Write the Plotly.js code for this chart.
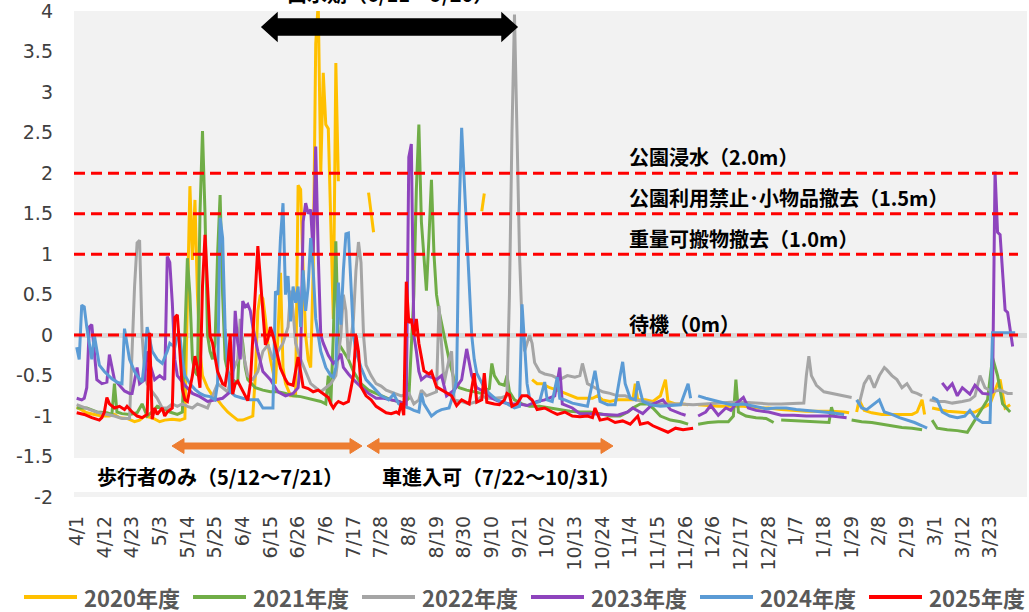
<!DOCTYPE html>
<html><head><meta charset="utf-8">
<script src="https://cdn.plot.ly/plotly-3.0.1.min.js"></script>
<style>html,body{margin:0;padding:0;background:#fff}#c{width:1029px;height:612px}</style>
</head><body><div id="c"></div>
<script>
// ---- data (day slot index from 4/1, water level m) ----
const tickLabels = ['4/1','4/12','4/23','5/3','5/14','5/25','6/4','6/15','6/26','7/6','7/17','7/28','8/8','8/19','8/30','9/10','9/21','10/2','10/13','10/24','11/4','11/15','11/26','12/6','12/17','12/28','1/7','1/18','1/29','2/8','2/19','3/1','3/12','3/23'];
const yTicks = [-2,-1.5,-1,-0.5,0,0.5,1,1.5,2,2.5,3,3.5,4];
const seriesNames = ['2020年度','2021年度','2022年度','2023年度','2024年度','2025年度'];
const seriesColors = ['#FFC000','#70AD47','#A5A5A5','#8E44BD','#5B9BD5','#FF0000'];

const idx2020 = [0,2,4,7,10,13,15,17,20,23,25,27,30,33,35,38,41,43,44,45,46,47,48,49,50,52,54,56,58,60,62,64,66,68,70,71,72,73,74,75,76,77,79,80,81,82,83,85,87,88,89,90,91,92,93,94,95,96,97,98,99,100,101,102,103,104,105,116,118,119,161,162,163,181,183,185,188,191,194,197,199,202,205,207,209,212,215,218,221,222,223,226,229,232,234,235,238,241,243,244,247,251,255,260,265,270,275,280,285,290,295,300,305,307,308,310,311,313,316,320,324,328,332,334,336,337,338,340,343,346,350,354,357,360,363,366,367,369,371];
const val2020 = [-0.89,-0.93,-0.96,-0.98,-1.0,-1.0,-0.98,-1.02,-1.03,-1.07,-1.05,-1.0,-1.02,-1.07,-1.05,-1.04,-1.05,-1.03,0.5,1.84,0.93,1.67,0.5,-0.2,-0.5,-0.65,-0.75,-0.8,-0.88,-0.95,-1.0,-1.05,-1.05,-1.02,-1.0,-0.5,0.3,0.5,0.45,0.2,-0.1,-0.3,-0.6,0.0,0.77,-0.4,-0.6,-0.75,-0.75,1.85,1.8,0.8,0.0,-0.3,-0.4,0.8,3.6,4.1,2.0,3.24,2.6,2.55,1.5,0.2,3.36,1.9,null,1.76,1.27,null,1.53,1.75,null,-0.55,-0.6,-0.6,-0.65,-0.68,-0.72,-0.75,-0.78,-0.78,-0.78,-0.75,-0.8,-0.82,-0.8,-0.8,-0.8,-0.6,-0.8,-0.8,-0.82,-0.75,-0.55,-0.82,-0.85,-0.85,-0.86,null,-0.86,-0.87,-0.88,-0.88,-0.88,-0.9,-0.9,-0.92,-0.93,-0.94,-0.94,-0.94,-0.95,-0.96,null,-0.95,-0.8,-0.93,-0.96,-0.98,-0.98,-0.98,-0.98,-0.95,-0.8,-0.98,null,-0.9,-0.92,-0.94,-0.95,-0.96,-0.95,-0.9,-0.85,-0.6,-0.55,-0.9,-0.86];

const idx2021 = [0,4,8,12,14,15,16,18,21,24,26,28,30,32,34,37,40,42,43,44,45,46,47,48,49,50,51,52,53,54,55,56,57,58,59,60,62,64,65,66,67,68,71,74,77,80,83,86,89,92,95,97,99,100,101,102,103,104,105,106,108,110,113,116,119,122,125,128,130,132,133,134,135,136,137,138,139,140,141,142,143,144,146,148,150,152,155,158,161,164,165,166,168,170,171,172,174,177,180,184,188,192,196,200,204,208,212,216,219,221,224,227,229,232,236,240,243,244,247,251,255,259,261,262,263,266,270,274,277,278,280,285,290,295,299,300,301,302,308,312,316,320,324,328,332,336,337,340,342,346,350,354,356,358,360,362,364,366,368,371];
const val2021 = [-0.9,-0.9,-0.95,-0.96,-0.98,-0.6,-0.95,-0.97,-0.98,-0.96,-0.85,-1.0,-0.95,-0.88,-0.9,-0.95,-0.98,-0.95,0.0,0.95,0.5,-0.3,-0.45,-0.5,1.5,2.52,1.5,0.0,-0.2,-0.3,-0.1,1.0,1.73,0.5,-0.3,-0.45,-0.55,-0.6,0.1,-0.1,-0.4,-0.55,-0.65,-0.68,-0.7,-0.7,-0.72,-0.75,-0.76,-0.78,-0.8,-0.82,-0.85,-0.5,-0.85,0.0,1.16,-0.1,-0.15,-0.2,-0.3,-0.45,-0.6,-0.68,-0.72,-0.76,-0.8,-0.82,-0.84,-0.78,-0.2,0.5,1.8,2.6,1.4,1.0,0.55,1.2,1.92,1.0,0.5,0.3,0.0,-0.3,-0.55,-0.65,-0.68,-0.7,-0.72,-0.66,-0.35,-0.5,-0.6,-0.62,-0.5,-0.7,-0.8,-0.85,-0.88,-0.88,-0.9,-0.92,-0.94,-0.95,-0.95,-0.97,-1.0,-1.0,-0.95,-0.9,-0.85,-0.85,-0.9,-1.0,-1.05,-1.07,-1.1,null,-1.1,-1.08,-1.07,-1.07,-1.0,-0.55,-0.95,-1.0,-1.02,-1.03,-1.08,null,-1.05,-1.06,-1.07,-1.08,-1.08,-0.89,-1.0,null,-1.05,-1.07,-1.08,-1.1,-1.12,-1.14,-1.15,-1.17,null,-1.05,-1.15,-1.17,-1.18,-1.2,-1.1,-1.0,-0.9,-0.8,-0.28,-0.5,-0.85,-0.95];

const idx2022 = [0,3,6,9,12,15,18,21,22,23,24,25,26,27,28,30,32,34,36,38,40,42,44,46,48,50,52,54,56,58,60,62,64,65,66,68,70,72,74,76,78,80,82,84,85,86,87,89,91,93,95,97,99,101,103,105,106,107,108,110,111,112,113,114,115,117,119,121,123,126,129,132,134,136,137,139,141,143,144,145,146,148,149,150,153,156,159,161,163,166,169,171,172,173,174,175,176,177,178,180,181,182,184,186,189,192,195,198,200,201,203,206,209,212,215,218,222,226,230,235,240,245,250,255,260,265,270,275,280,285,289,290,291,292,294,297,300,303,306,308,309,311,313,315,317,319,321,322,324,326,328,330,332,334,336,337,339,342,345,348,352,355,357,359,361,364,367,370,372];
const val2022 = [-0.86,-0.9,-0.93,-0.96,-0.98,-1.0,-1.03,-1.03,-0.21,0.6,1.14,1.17,0.0,-0.45,-0.6,-0.7,-0.78,-0.9,-0.9,-0.85,-0.88,-0.85,-0.88,-0.9,-0.85,-0.88,-0.9,-0.75,-0.6,-0.65,-0.7,-0.45,-0.3,0.2,-0.2,-0.5,-0.55,-0.45,-0.2,-0.12,-0.3,-0.2,-0.1,0.1,0.55,0.3,-0.1,-0.3,-0.45,-0.6,-0.65,-0.7,-0.65,-0.6,-0.5,0.0,0.5,0.3,-0.3,0.2,0.8,1.15,0.9,0.0,-0.37,-0.5,-0.6,-0.63,-0.68,-0.72,-0.75,-0.72,-0.85,-0.8,-0.68,-0.75,-0.72,-0.7,0.36,-0.2,-0.6,-0.3,-0.2,-0.8,-0.82,-0.85,-0.82,-0.75,-0.78,-0.78,-0.77,-0.75,0.5,2.5,3.96,2.5,1.0,0.15,-0.2,0.0,-0.1,-0.34,-0.45,-0.48,-0.5,-0.55,-0.5,-0.52,-0.5,-0.35,-0.6,-0.65,-0.7,-0.72,-0.75,-0.75,-0.8,-0.82,-0.85,-0.85,-0.85,-0.86,-0.85,-0.84,-0.83,-0.83,-0.84,-0.85,-0.85,-0.84,-0.84,-0.5,-0.26,-0.5,-0.62,-0.7,-0.72,-0.74,-0.76,-0.77,null,-0.85,-0.6,-0.5,-0.65,-0.5,-0.4,-0.43,-0.5,-0.55,-0.65,-0.6,-0.7,-0.72,-0.75,null,-0.8,-0.82,-0.82,-0.84,-0.82,-0.8,-0.75,-0.5,-0.65,-0.7,-0.68,-0.72,-0.72];

const idx2023 = [0,2,3,4,5,6,7,8,10,12,13,14,15,17,19,21,22,24,25,27,28,29,31,33,35,36,37,38,39,40,43,46,49,52,55,58,61,62,63,64,65,66,67,68,69,70,72,74,77,80,83,86,88,89,90,91,92,93,94,95,96,97,98,100,102,104,105,106,108,110,113,116,119,122,125,128,131,132,133,134,135,136,137,139,141,143,145,147,150,153,155,157,159,162,165,168,172,176,179,183,186,190,192,193,197,200,205,210,215,219,221,225,229,233,236,240,242,243,247,250,252,255,258,260,262,265,267,270,275,280,285,290,295,300,306,307,344,346,348,350,352,355,357,360,363,364,365,366,367,369,370,372];
const val2023 = [-0.78,-0.8,-0.78,-0.65,0.1,0.13,-0.2,-0.55,-0.6,-0.58,-0.24,-0.4,-0.55,-0.62,-0.69,-0.72,-0.72,-0.4,-0.6,-0.55,-0.2,-0.35,-0.55,-0.5,-0.55,0.97,0.9,0.4,-0.3,-0.5,-0.62,-0.72,-0.76,-0.82,-0.8,-0.78,-0.7,-0.6,0.3,-0.1,-0.3,0.42,0.35,0.38,0.3,0.1,-0.2,-0.45,-0.55,-0.7,-0.75,-0.72,-0.65,-0.3,1.4,1.63,1.5,1.55,1.0,2.33,1.0,0.0,-0.1,-0.25,-0.35,-0.29,-0.23,-0.4,-0.48,-0.55,-0.64,-0.72,-0.78,-0.78,-0.8,-0.82,-0.86,2.2,2.36,0.0,-0.2,-0.45,-0.55,-0.5,-0.52,-0.55,-0.5,-0.75,-0.68,-0.55,-0.17,-0.5,-0.65,-0.7,-0.78,-0.82,-0.85,-0.85,-0.87,-0.82,-0.8,-0.75,-0.4,-0.85,-0.9,-0.97,-0.97,-0.98,-0.99,-0.95,-0.9,-0.97,-0.85,-0.8,-0.92,-0.97,-0.99,null,-1.0,-0.95,-0.87,-0.99,-0.9,-0.93,-0.85,-0.77,-0.9,-0.93,-0.95,-0.99,-0.99,-1.0,-1.0,-1.0,-1.02,null,-0.59,-0.67,-0.6,-0.75,-0.65,-0.73,-0.62,-0.72,-0.73,-0.7,2.02,1.27,1.24,0.31,0.28,-0.14];

const idx2024 = [0,1,2,3,4,5,6,7,8,9,11,14,16,18,19,20,21,23,24,26,27,28,29,30,32,34,36,37,39,40,41,42,43,45,47,49,51,53,55,56,57,58,59,60,61,63,66,69,72,74,76,78,79,80,81,82,83,84,85,86,87,88,89,90,91,92,93,94,95,97,99,101,102,103,104,105,106,107,108,109,110,111,113,115,118,121,123,124,126,128,130,132,134,136,137,138,140,141,143,145,148,150,151,152,153,154,155,156,157,158,159,162,164,167,170,174,176,177,178,179,180,182,184,186,187,189,191,192,194,197,200,203,206,208,211,214,216,217,218,220,222,223,225,228,232,236,240,243,244,245,247,250,255,260,265,270,274,278,282,286,290,295,300,305,307,310,312,314,317,319,321,324,327,330,333,336,338,339,340,342,344,347,350,353,355,357,360,363,364,366,370,373];
const val2024 = [-0.15,-0.3,0.37,0.35,0.1,-0.13,-0.3,0.0,-0.2,-0.37,-0.45,-0.54,-0.58,-0.6,0.08,-0.1,-0.3,-0.45,-0.5,-0.58,-0.3,0.1,-0.05,-0.2,-0.3,-0.35,-0.2,-0.1,-0.15,0.0,0.0,-0.3,-0.5,-0.6,-0.67,-0.72,-0.75,-0.76,-0.8,-0.6,1.45,1.2,0.07,-0.4,-0.7,-0.75,-0.78,-0.8,-0.8,-0.9,-0.9,-0.9,0.54,0.5,1.2,1.63,0.5,0.73,0.17,0.6,0.4,0.6,0.1,0.8,0.3,0.6,1.2,0.8,0.2,-0.2,-0.4,-0.5,-0.52,-0.4,0.65,0.13,0.8,1.25,1.26,0.6,0.0,-0.2,-0.4,-0.55,-0.65,-0.75,-0.78,-0.8,-0.73,-0.85,-0.88,-0.9,-0.93,-0.95,-0.72,-0.85,-0.95,-1.0,-0.95,-0.92,-0.9,-0.7,-0.55,1.5,2.56,1.9,1.3,0.5,0.0,-0.3,-0.47,-0.65,-0.72,-0.8,-0.83,-0.9,-0.88,0.38,-0.15,-0.6,-0.78,-0.84,-0.82,-0.58,-0.8,-0.82,-0.52,-0.78,-0.8,-0.84,-0.86,-0.88,-0.44,-0.82,-0.86,-0.86,-0.5,-0.33,-0.6,-0.78,-0.8,-0.57,-0.82,-0.86,-0.88,-0.87,-0.86,-0.6,-0.78,null,-0.75,-0.78,-0.82,-0.86,-0.85,-0.88,-0.91,-0.9,-0.9,-0.92,-0.93,-0.95,-0.96,-0.98,null,-0.8,-0.9,-0.92,-0.85,-0.8,-0.95,-0.98,-1.02,-1.05,-1.08,-1.12,-1.15,null,-0.77,-0.8,-0.95,-1.0,-1.02,-1.0,-0.93,-1.02,-1.08,-1.08,0.03,0.03,0.03,0.03];

const idx2025 = [0,3,6,9,10,11,12,13,15,17,19,20,22,24,26,28,29,30,31,32,34,35,36,38,39,40,41,42,43,44,46,47,48,49,50,51,52,53,54,55,56,58,59,60,61,62,63,64,66,68,69,70,71,72,73,74,75,76,77,78,79,81,83,84,86,87,88,89,90,92,94,96,98,100,101,102,103,104,106,108,110,111,112,113,115,117,119,121,123,125,127,128,129,130,131,132,133,134,135,136,137,138,140,141,143,145,147,149,151,153,156,158,159,161,162,163,166,168,170,171,172,173,175,177,179,181,183,186,189,191,194,197,200,203,205,206,208,211,214,217,220,223,224,227,229,232,235,238,241,245];
const val2025 = [-0.96,-0.98,-1.02,-1.05,-1.02,-0.95,-0.77,-0.85,-0.9,-0.88,-0.92,-0.88,-0.95,-1.0,-1.02,-0.98,0.03,-1.04,-0.9,-0.98,-0.9,-1.0,-0.95,-0.9,0.22,0.25,-0.2,-0.67,-0.8,-0.82,-0.5,-0.26,-0.4,-0.65,0.6,1.24,0.6,-0.01,-0.1,-0.3,-0.45,-0.6,-0.62,-0.4,0.0,-0.73,-0.6,-0.57,-0.7,-0.81,-0.6,-0.05,0.5,1.1,0.7,0.3,-0.12,-0.05,0.1,0.0,-0.15,-0.41,-0.55,-0.6,-0.62,-0.45,-0.27,-0.45,-0.64,-0.66,-0.7,-0.68,-0.73,-0.77,-0.85,-0.9,-0.85,-0.82,-0.85,-0.82,-0.5,0.0,-0.2,-0.64,-0.75,-0.8,-0.88,-0.92,-0.96,-0.97,-0.95,-0.97,-0.84,-0.99,0.66,0.15,0.2,0.0,0.2,-0.1,-0.3,-0.44,-0.48,-0.45,-0.64,-0.68,-0.72,-0.75,-0.87,-0.8,-0.85,-0.47,-0.83,-0.8,-0.47,-0.83,-0.85,-0.86,-0.8,-0.72,-0.74,-0.88,-0.85,-0.75,-0.75,-0.8,-0.92,-0.9,-0.95,-0.98,-0.95,-1.0,-1.01,-1.0,-1.02,-0.9,-1.05,-1.03,-1.08,-1.06,-1.1,-1.0,-1.1,-1.08,-1.12,-1.16,-1.2,-1.15,-1.17,-1.15];

const thresholdLevels = [2.0, 1.5, 1.0, 0];
const thresholdTexts = ['公園浸水（2.0m）','公園利用禁止･小物品撤去（1.5m）','重量可搬物撤去（1.0m）','待機（0m）'];

// ---- layout helpers (pixel -> paper) ----
const PL=74, PR=1027, PT=11, PB=497;
const px2x = p => (p-PL)/(PR-PL);
const py2y = p => (PB-p)/(PB-PT);
function arrowPath(x1,x2,yc,sh,hh,hl){
  const pts=[[x1,yc],[x1+hl,yc-hh],[x1+hl,yc-sh],[x2-hl,yc-sh],[x2-hl,yc-hh],[x2,yc],[x2-hl,yc+hh],[x2-hl,yc+sh],[x1+hl,yc+sh],[x1+hl,yc+hh]];
  return 'M'+pts.map(p=>px2x(p[0]).toFixed(5)+','+py2y(p[1]).toFixed(5)).join('L')+'Z';
}

const idxs=[idx2020,idx2021,idx2022,idx2023,idx2024,idx2025];
const vals=[val2020,val2021,val2022,val2023,val2024,val2025];
const traces = seriesNames.map((n,i)=>({
  type:'scatter', mode:'lines', name:n, x:idxs[i], y:vals[i], showlegend:false,
  line:{color:seriesColors[i], width:3}, connectgaps:false, hoverinfo:'skip'
}));

const shapes = [];
shapes.push({type:'rect', xref:'paper', yref:'paper', x0:0, x1:px2x(680), y0:py2y(492), y1:py2y(458), fillcolor:'#FFFFFF', line:{width:0}, layer:'below'});
thresholdLevels.forEach(v=>shapes.push({type:'line', xref:'paper', yref:'y', x0:0, x1:px2x(1018), y0:v, y1:v, line:{color:'#FF0000', width:3, dash:'11px,6px'}, layer:'above'}));
shapes.push({type:'path', xref:'paper', yref:'paper', path:arrowPath(262,517,27,8,13.5,15), fillcolor:'#000000', line:{color:'#000000', width:1.5}});
shapes.push({type:'path', xref:'paper', yref:'paper', path:arrowPath(172,362,446,3,7.5,12), fillcolor:'#ED7D31', line:{color:'#ED7D31', width:1}});
shapes.push({type:'path', xref:'paper', yref:'paper', path:arrowPath(367,613,446,3,7.5,12), fillcolor:'#ED7D31', line:{color:'#ED7D31', width:1}});

const jf = {family:'"Noto Sans CJK JP", sans-serif', size:20, color:'#000000', weight:700};
const annotations = thresholdTexts.map((t,i)=>({
  xref:'paper', yref:'paper', x:px2x(627), y:py2y([156.7,198,238,323][i]), xanchor:'left', yanchor:'middle', text:t, showarrow:false, font:jf
}));
annotations.push({xref:'paper', yref:'paper', x:px2x(95), y:py2y(476), xanchor:'left', yanchor:'middle', text:'歩行者のみ（5/12～7/21）', showarrow:false, font:jf});
annotations.push({xref:'paper', yref:'paper', x:px2x(380), y:py2y(476), xanchor:'left', yanchor:'middle', text:'車進入可（7/22～10/31）', showarrow:false, font:jf});
annotations.push({xref:'paper', yref:'paper', x:px2x(390), y:py2y(-6), xanchor:'center', yanchor:'middle', text:'出水期（6/11～9/20）', showarrow:false, font:jf});

// custom legend (line sample + label), pitch
const legendStart = [24,193,362,531,700,869];
seriesNames.forEach((n,i)=>{
  const x0 = legendStart[i];
  shapes.push({type:'line', xref:'paper', yref:'paper', x0:px2x(x0), x1:px2x(x0+53), y0:py2y(597), y1:py2y(597), line:{color:seriesColors[i], width:4}});
  annotations.push({xref:'paper', yref:'paper', x:px2x(x0+58), y:py2y(597), xanchor:'left', yanchor:'middle', text:n, showarrow:false,
    font:{family:'"Noto Sans CJK JP", sans-serif', size:22, color:'#595959', weight:700}});
});

const layout = {
  width:1029, height:612,
  margin:{l:PL, r:1029-PR, t:PT, b:612-PB},
  paper_bgcolor:'#FFFFFF', plot_bgcolor:'#F2F2F2',
  showlegend:false,
  xaxis:{range:[-1.07,377.7], tickvals:tickLabels.map((_,i)=>i*11), ticktext:tickLabels, tickangle:-90,
    showgrid:false, zeroline:false, showline:false, ticks:'', ticklabelstandoff:14, ticklabeloverflow:'allow',
    tickfont:{family:'"DejaVu Sans", sans-serif', size:19, color:'#404040'}},
  yaxis:{range:[-2,4.004], tickvals:yTicks, ticktext:yTicks.map(String), showgrid:false, zeroline:true, zerolinecolor:'#D9D9D9', zerolinewidth:5,
    showline:false, ticks:'', ticklabelstandoff:20, ticklabeloverflow:'allow',
    tickfont:{family:'"DejaVu Sans", sans-serif', size:19, color:'#404040'}},
  shapes:shapes, annotations:annotations
};
Plotly.newPlot('c', traces, layout, {staticPlot:true, displayModeBar:false});
</script>
</body></html>
